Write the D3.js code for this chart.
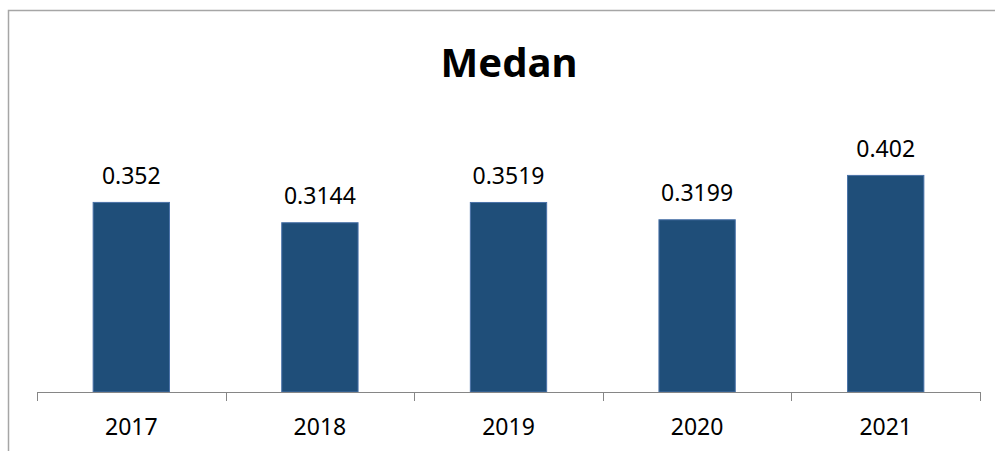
<!DOCTYPE html>
<html>
<head>
<meta charset="utf-8">
<script src="https://cdn.jsdelivr.net/npm/d3@7"></script>
<style>
  body { margin: 0; background: #fff; }
  svg { display: block; font-family: 'Noto Sans', sans-serif; }
</style>
</head>
<body>
<div class="content"></div>
<script>
var years = ['2017', '2018', '2019', '2020', '2021']
var values = [0.352, 0.3144, 0.3519, 0.3199, 0.402]
var valueLabels = ['0.352', '0.3144', '0.3519', '0.3199', '0.402']
var title = 'Medan'

var width = 995
var height = 451
var baseY = 392

var svg = d3.select('.content').append('svg')
    .attr('width', width)
    .attr('height', height)

// chart border (right and bottom run off the picture)
svg.append('path')
    .attr('d', 'M8.5,' + height + 'V10.5H' + width)
    .style('fill', 'none')
    .style('stroke', '#a6a6a6')
    .style('stroke-width', 1.5)

svg.append('text')
    .attr('x', 509)
    .attr('y', 77)
    .attr('text-anchor', 'middle')
    .style('font-size', '40px')
    .style('font-weight', 'bold')
    .text(title)

var x = d3.scaleBand()
    .domain(years)
    .range([37, 980])
    .paddingInner(0.59)
    .paddingOuter(0.295)

var y = d3.scaleLinear()
    .domain([0, 0.5])
    .range([baseY, 122])

var step = x.step()
var gap = step * 0.59 / 2

svg.append('g')
    .selectAll('rect')
    .data(values)
    .enter().append('rect')
    .attr('x', function(d, i) { return x(years[i]) + 0.5 })
    .attr('y', function(d) { return y(d) + 0.5 })
    .attr('width', x.bandwidth() - 1)
    .attr('height', function(d) { return baseY - y(d) - 0.5 })
    .style('fill', '#1f4e79')
    .style('stroke', '#4a72a8')
    .style('stroke-width', 1)

svg.append('g')
    .selectAll('text')
    .data(values)
    .enter().append('text')
    .attr('x', function(d, i) { return x(years[i]) + x.bandwidth() / 2 })
    .attr('y', function(d) { return y(d) - 18 })
    .attr('text-anchor', 'middle')
    .style('font-size', '23px')
    .style('fill', '#000')
    .text(function(d, i) { return valueLabels[i] })

// category axis
var tickXs = years.map(function(d) { return Math.round(x(d) - gap) + 0.5 })
tickXs.push(Math.round(x(years[years.length - 1]) + x.bandwidth() + gap) + 0.5)

var axis = svg.append('g').attr('class', 'axis')
axis.append('line')
    .attr('x1', tickXs[0]).attr('x2', tickXs[tickXs.length - 1])
    .attr('y1', baseY + 0.5).attr('y2', baseY + 0.5)
    .style('stroke', '#868686')
axis.selectAll('.tick')
    .data(tickXs)
    .enter().append('line')
    .attr('class', 'tick')
    .attr('x1', function(d) { return d })
    .attr('x2', function(d) { return d })
    .attr('y1', baseY)
    .attr('y2', baseY + 9)
    .style('stroke', '#868686')
axis.selectAll('.label')
    .data(years)
    .enter().append('text')
    .attr('class', 'label')
    .attr('x', function(d) { return x(d) + x.bandwidth() / 2 })
    .attr('y', 435)
    .attr('text-anchor', 'middle')
    .style('font-size', '23px')
    .text(function(d) { return d })
</script>
</body>
</html>
